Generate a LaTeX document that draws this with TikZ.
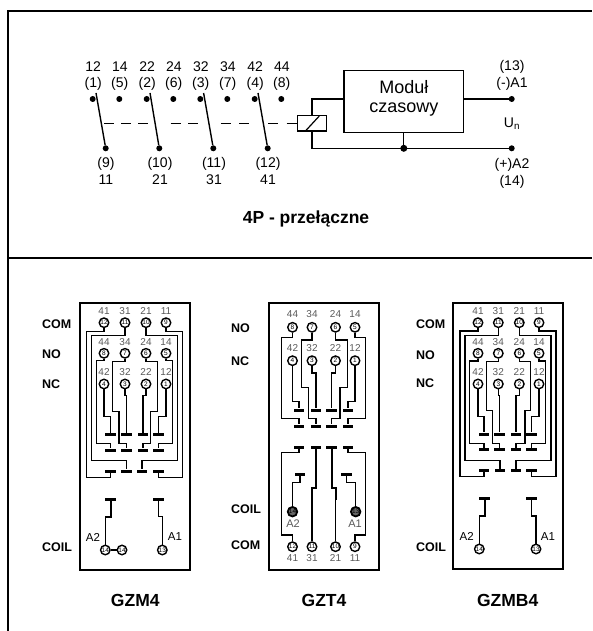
\documentclass[tikz,border=0pt]{standalone}
\usepackage{fontspec}
\setmainfont{Liberation Sans}
\tikzset{
  wire/.style={line width=1.2pt, line join=miter},
  heavy/.style={line width=2pt},
  dot/.style={circle, fill=black, inner sep=0pt, minimum size=6pt},
  term/.style={circle, draw, fill=white, line width=1.4pt, inner sep=0pt, minimum size=9.5pt, font=\fontsize{6.5}{6.5}\selectfont},
  coilterm/.style={term, fill=black!60, line width=1.8pt},
  bar/.style={rectangle, fill=black, inner sep=0pt, minimum width=10.5pt, minimum height=3pt},
  txt/.style={inner sep=0pt, font=\fontsize{14}{14}\selectfont},
  pinlab/.style={inner sep=0pt, text=black!65, font=\fontsize{10}{10}\selectfont},
  sidelab/.style={inner sep=0pt, anchor=west, font=\bfseries\fontsize{12.5}{12.5}\selectfont},
  typelab/.style={inner sep=0pt, font=\bfseries\fontsize{17.5}{17.5}\selectfont},
  aalab/.style={inner sep=0pt, font=\fontsize{11.5}{11.5}\selectfont},
  modlab/.style={inner sep=0pt, font=\fontsize{18}{18}\selectfont},
  casing/.style={line width=1.7pt},
}
\begin{document}
\begin{tikzpicture}[x=1pt,y=-1pt]
\useasboundingbox (0,0) rectangle (592,631);
% frame
\draw[line width=1.5pt] (8,631)--(8,11)--(592,11);
\draw[line width=1.5pt] (8,258)--(592,258);

% contacts
\foreach \a/\b/\c/\d/\xa/\xb/\xc in {12/1/14/5/92.7/119.3/105.7,22/2/24/6/146.7/173.3/159.3,32/3/34/7/200.3/227.3/213.3,42/4/44/8/254.7/281.3/267.7}{
  \node[dot] (nc\a) at (\xa,99) {};
  \node[dot] (no\c) at (\xb,99) {};
  \node[txt] (la\a) at (\xa+.5,67) {\a};
  \node[txt] (lb\a) at (\xa+.5,84) {(\b)};
  \node[txt] (la\c) at (\xb+.5,67) {\c};
  \node[txt] (lb\c) at (\xb+.5,84) {(\d)};
  \node[dot] (cm\a) at (\xc,148.3) {};
  \coordinate (tip\a) at (\xa+3.3,93);
  \draw[line width=1.4pt] (tip\a)--(cm\a);
}
\node[txt] (lc9) at (106,164) {(9)};
\node[txt] (ld9) at (106,180) {11};
\node[txt] (lc10) at (160,164) {(10)};
\node[txt] (ld10) at (160,180) {21};
\node[txt] (lc11) at (214,164) {(11)};
\node[txt] (ld11) at (214,180) {31};
\node[txt] (lc12) at (268,164) {(12)};
\node[txt] (ld12) at (268,180) {41};

% coil and module
\node[draw, line width=1.2pt, minimum width=29.4pt, minimum height=15.3pt, inner sep=0pt] (coil) at (312,123.3) {};
\draw[line width=1.2pt] (305.7,130.7)--(319.3,116);
\foreach \p/\q in {104.3/114.3,121/131,138.3/148.3,170.7/180.7,188.3/198.3,221/231,239/249,268.3/278.3,286.7/297.3}{
  \draw[line width=1.2pt] (\p,123.3)--(\q,123.3);
}
\node[draw, line width=1.2pt, minimum width=119.7pt, minimum height=62pt, inner sep=0pt] (modul) at (403.8,101.3) {};
\node[modlab] (modula) at (403.8,87) {Moduł};
\node[modlab] (modulb) at (403.8,110) {czasowy};
\node[dot] (pa) at (511.7,99) {};
\node[dot] (pb) at (511.7,148.3) {};
\node[dot, minimum size=7pt] (jn) at (403.8,148.3) {};
\draw[wire] (coil.north) |- (modul.west |- pa);
\draw[wire] (modul.east |- pa) -- (pa);
\draw[wire] (coil.south) |- (pb);
\draw[wire] (modul.south) -- (jn);
\node[txt] (ta) at (512,67.3) {(13)};
\node[txt] (tb) at (512,84.3) {(-)A1};
\node[txt] (un) at (512,124) {U\textsubscript{n}};
\node[txt] (tc) at (512,165) {(+)A2};
\node[txt] (td) at (512,182) {(14)};
\node[typelab] (title) at (306,219) {4P - przełączne};

% GZM4
\draw[casing] (80,302.7) rectangle (190,570);
\node[sidelab] (mcom) at (42,324) {COM};
\node[sidelab] (mno) at (42,354) {NO};
\node[sidelab] (mnc) at (42,384) {NC};
\node[sidelab] (mcoil) at (42,547) {COIL};
\node[typelab] (mname) at (135.3,600) {GZM4};
\foreach \x/\a/\b/\c/\na/\nb/\nc in {104/12/8/4/41/44/42,125/11/7/3/31/34/32,146/10/6/2/21/24/22,166/9/5/1/11/14/12}{
  \node[term] (m\a) at (\x,322.7) {\a};
  \node[term] (m\b) at (\x,353.3) {\b};
  \node[term] (m\c) at (\x,384) {\c};
  \node[pinlab] (ml\na) at (\x,310.7) {\na};
  \node[pinlab] (ml\nb) at (\x,341.7) {\nb};
  \node[pinlab] (ml\nc) at (\x,372.3) {\nc};
}
\foreach \n/\x/\y in {a/110.7/434.3,b/126.7/434.3,c/143/434.3,d/158.3/434.3,e/110.7/450,f/126.7/450,g/143/450,h/158.3/450,i/110.7/471,j/126.7/471,k/142/471,l/158.3/471,m/110.7/499.3,n/158.3/499.3}{
  \node[bar] (mb\n) at (\x,\y) {};
}
\draw[wire] (m4) -- (104,416.7) -| (mba);
\draw[wire] (m3) -- (125,395.7) -| (mbb);
\draw[wire] (m2) -- (146,395.7) -| (mbc);
\draw[wire] (m1) -- (166,416.7) -| (mbd);
\draw[wire] (m8) -- (104,360.7) -| (96.7,443.3) -| (mbe);
\draw[wire] (m7) -- (125,361.7) -| (112.7,411.7) -| (119,443.3) -| (mbf);
\draw[wire] (m6) -- (146,361.7) -| (157.7,411.7) -| (150.7,443.3) -| (mbg);
\draw[wire] (m5) -- (166,360.7) -| (172.7,443.3) -| (mbh);
\draw[wire] (m12) -- (104,331.7) -| (86.7,477.3) -| (mbi);
\draw[wire] (m11) -- (125,335.7) -| (91.7,460.7) -| (mbj);
\draw[wire] (m10) -- (146,335.7) -| (177.7,460.7) -| (mbk);
\draw[wire] (m9) -- (166,331.7) -| (182.7,477.3) -| (mbl);
\node[term] (mc14) at (105.3,550) {14};
\node[term] (md14) at (122,550) {14};
\node[term] (mc13) at (162.3,550) {13};
\draw[wire] (mc14) -- (md14);
\draw[wire] (mc14) -- (105.3,516.7);
\draw[heavy] (105.3,516.7) -| (mbm);
\draw[wire] (mc13) -- (162.3,516.7) -| (mbn);
\node[aalab] (ma2) at (93,537) {A2};
\node[aalab] (ma1) at (175,537) {A1};

% GZT4
\draw[casing] (269,302.7) rectangle (378.7,570);
\node[sidelab] (tno) at (231,328) {NO};
\node[sidelab] (tnc) at (231,361) {NC};
\node[sidelab] (tcoil) at (231,509) {COIL};
\node[sidelab] (tcom) at (231,545) {COM};
\node[typelab] (tname) at (324,600) {GZT4};
\foreach \x/\b/\c/\d/\nb/\nc/\nd in {292.5/8/4/12/44/42/41,312/7/3/11/34/32/31,335.5/6/2/10/24/22/21,355/5/1/9/14/12/11}{
  \node[term] (t\b) at (\x,327.3) {\b};
  \node[term] (t\c) at (\x,360.7) {\c};
  \node[term] (t\d) at (\x,546.7) {\d};
  \node[pinlab] (tl\nb) at (\x,314) {\nb};
  \node[pinlab] (tl\nc) at (\x,348.3) {\nc};
  \node[pinlab] (tl\nd) at (\x,558) {\nd};
}
\foreach \n/\x/\y in {a/299/410,b/316/410,c/331.7/410,d/348/410,e/299/426,f/316/426,g/331.7/426,h/348/426,i/299/447.3,j/316/447.3,k/331.7/447.3,l/348/447.3,m/300/474.3,n/346.7/474.3}{
  \node[bar] (tb\n) at (\x,\y) {};
}
\draw[wire] (t4) -- (292.5,401.7) -| (tba);
\draw[wire] (t3) -- (312,373) -| (tbb);
\draw[wire] (t2) -- (335.5,373) -| (tbc);
\draw[wire] (t1) -- (355,401.7) -| (tbd);
\draw[wire] (t8) -- (292.5,337.7) -| (281.7,418.3) -| (tbe);
\draw[wire] (t7) -- (312,340) -| (301.7,387.7) -| (308.3,418.3) -| (tbf);
\draw[wire] (t6) -- (335.5,340) -| (347.3,387.7) -| (340,418.3) -| (tbg);
\draw[wire] (t5) -- (355,337.7) -| (365.7,418.3) -| (tbh);
\draw[wire] (tbi) -- (299,452.3) -| (281.7,535) -| (t12);
\draw[heavy] (tbj) -- (316,488.3) -| (312,500);
\draw[wire] (312,500) -- (t11);
\draw[heavy] (tbk) -- (331.7,488.3) -| (335.5,500);
\draw[wire] (335.5,500) -- (t10);
\draw[wire] (tbl) -- (348,452.3) -| (365.7,535) -| (t9);
\node[coilterm] (tc14) at (292.5,511.7) {14};
\node[coilterm] (tc13) at (355.7,511.7) {13};
\draw[wire] (tbm) -- (300,482.7) -| (tc14);
\draw[wire] (tbn) -- (346.7,482.7) -| (tc13);
\node[pinlab, font=\fontsize{11}{11}\selectfont] (ta2) at (293,524) {A2};
\node[pinlab, font=\fontsize{11}{11}\selectfont] (ta1) at (355,524) {A1};

% GZMB4
\draw[casing] (453.3,302.7) rectangle (563.3,569);
\node[sidelab] (bcom) at (416,324) {COM};
\node[sidelab] (bno) at (416,355) {NO};
\node[sidelab] (bnc) at (416,383) {NC};
\node[sidelab] (bcoil) at (416,547) {COIL};
\node[typelab] (bname) at (507.7,600) {GZMB4};
\foreach \x/\a/\b/\c/\na/\nb/\nc in {478/12/8/4/41/44/42,498.3/11/7/3/31/34/32,519.3/10/6/2/21/24/22,539/9/5/1/11/14/12}{
  \node[term] (b\a) at (\x,322.7) {\a};
  \node[term] (b\b) at (\x,353.3) {\b};
  \node[term] (b\c) at (\x,384) {\c};
  \node[pinlab] (bl\na) at (\x,310.7) {\na};
  \node[pinlab] (bl\nb) at (\x,341.7) {\nb};
  \node[pinlab] (bl\nc) at (\x,372.3) {\nc};
}
\foreach \n/\x/\y in {a/484/434,b/499.3/434,c/516/434,d/531.7/434,e/484/449.3,f/499.3/449.3,g/516/449.3,h/531.7/449.3,i/484/470.3,j/500/470.3,k/516/470.3,l/531.7/470.3,m/484.7/498.7,n/531.7/498.7}{
  \node[bar] (bb\n) at (\x,\y) {};
}
\draw[wire] (b4) -- (478,416.7) -| (bba);
\draw[wire] (b3) -- (498.3,395.7) -| (bbb);
\draw[wire] (b2) -- (519.3,395.7) -| (bbc);
\draw[wire] (b1) -- (539,416.7) -| (bbd);
\draw[wire] (b8) -- (478,361) -| (469.3,443.3) -| (bbe);
\draw[wire] (b7) -- (498.3,361.7) -| (486.7,410.7) -| (492.7,443.3) -| (bbf);
\draw[wire] (b6) -- (519.3,361.7) -| (530.7,410.7) -| (525,443.3) -| (bbg);
\draw[wire] (b5) -- (539,361) -| (545.7,443.3) -| (bbh);
\draw[wire] (b12) -- (478,331) -| (460,476.7) -| (bbi);
\draw[wire] (b11) -- (498.3,335.7) -| (465,460.7) -| (bbj);
\draw[wire] (b10) -- (519.3,335.7) -| (551,460.7) -| (bbk);
\draw[wire] (b9) -- (539,331) -| (556,476.7) -| (bbl);
\node[term] (bc14) at (479.3,549) {14};
\node[term] (bc13) at (536,549) {13};
\draw[wire] (bc14) -- (479.3,516);
\draw[heavy] (479.3,516) -| (bbm);
\draw[wire] (bc13) -- (536,516) -| (bbn);
\node[aalab] (ba2) at (466.7,536.7) {A2};
\node[aalab] (ba1) at (548,536.7) {A1};
\end{tikzpicture}
\end{document}
